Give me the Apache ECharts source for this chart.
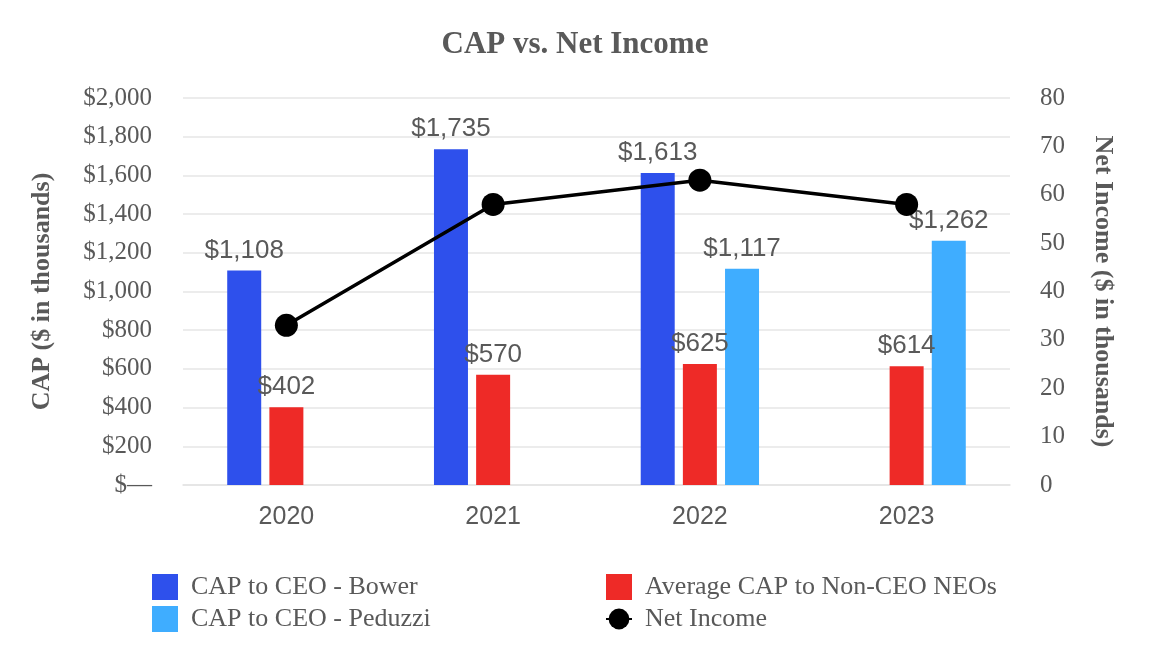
<!DOCTYPE html>
<html><head><meta charset="utf-8">
<script src="https://cdn.jsdelivr.net/npm/echarts@6/dist/echarts.min.js"></script>
<style>html,body{margin:0;padding:0;background:#fff}#c{width:1150px;height:672px}</style>
</head><body><div id="c"></div>
<script>
const years = ['2020','2021','2022','2023'];
const bower = [1108, 1735, 1613, null];
const nonCeo = [402, 570, 625, 614];
const peduzzi = [null, null, 1117, 1262];
const netIncome = [33, 58, 63, 58];
const leftTicks = [0, 200, 400, 600, 800, 1000, 1200, 1400, 1600, 1800, 2000];

const serif = '"Liberation Serif", "Times New Roman", serif';
const sans = '"Liberation Sans", Arial, sans-serif';
const gray = '#595959';
const fmt = v => v === 0 ? '$—' : '$' + v.toLocaleString('en-US');
const lbl = {show:true, position:'top', distance:7, fontFamily:sans, fontSize:26, color:gray,
  formatter: p => fmt(p.value)};
const legText = {fontFamily:serif, fontSize:26, color:gray, padding:[0,0,0,8]};

const chart = echarts.init(document.getElementById('c'));
chart.setOption({
  animation:false,
  title:{text:'CAP vs. Net Income', left:'center', top:24,
    textStyle:{fontFamily:serif, fontWeight:'bold', fontSize:31, color:gray}},
  legend:[
    {orient:'vertical', left:147, top:569, itemGap:6, itemWidth:26, itemHeight:26,
     textStyle:legText,
     data:[{name:'CAP to CEO - Bower', icon:'rect'},{name:'CAP to CEO - Peduzzi', icon:'rect'}]},
    {orient:'vertical', left:600, top:569, itemGap:6, itemWidth:26, itemHeight:26,
     textStyle:legText,
     data:[{name:'Average CAP to Non-CEO NEOs', icon:'rect'},'Net Income']}
  ],
  grid:{left:183, right:140, top:98, bottom:187},
  xAxis:{type:'category', data:years,
    axisLine:{lineStyle:{color:'#e3e3e3', width:1.5}}, axisTick:{show:false},
    axisLabel:{fontFamily:sans, fontSize:25, color:gray, margin:20}},
  yAxis:[
    {type:'value', min:leftTicks[0], max:leftTicks[leftTicks.length-1], interval:200,
     name:'CAP ($ in thousands)', nameLocation:'middle', nameGap:128, nameRotate:90,
     nameTextStyle:{fontFamily:serif, fontWeight:'bold', fontSize:26, color:gray},
     axisLabel:{fontFamily:serif, fontSize:25, color:gray, margin:31, formatter:fmt},
     splitLine:{lineStyle:{color:'#e6e6e6', width:1.5}}},
    {type:'value', min:0, max:80, interval:10,
     name:'Net Income ($ in thousands)', nameLocation:'middle', nameGap:80, nameRotate:-90,
     nameTextStyle:{fontFamily:serif, fontWeight:'bold', fontSize:26, color:gray},
     axisLabel:{fontFamily:serif, fontSize:25, color:gray, margin:30},
     splitLine:{show:false}}
  ],
  series:[
    {name:'CAP to CEO - Bower', type:'bar', data:bower, barWidth:34, barGap:'24%',
     itemStyle:{color:'#2E50EC'}, label:lbl},
    {name:'Average CAP to Non-CEO NEOs', type:'bar', data:nonCeo, barWidth:34, barGap:'24%',
     itemStyle:{color:'#EE2A27'}, label:lbl},
    {name:'CAP to CEO - Peduzzi', type:'bar', data:peduzzi, barWidth:34, barGap:'24%',
     itemStyle:{color:'#3FADFF'}, label:lbl},
    {name:'Net Income', type:'line', yAxisIndex:1, data:netIncome, symbol:'circle', symbolSize:23,
     z:5, lineStyle:{color:'#000', width:3.5}, itemStyle:{color:'#000'}}
  ]
});
</script></body></html>
